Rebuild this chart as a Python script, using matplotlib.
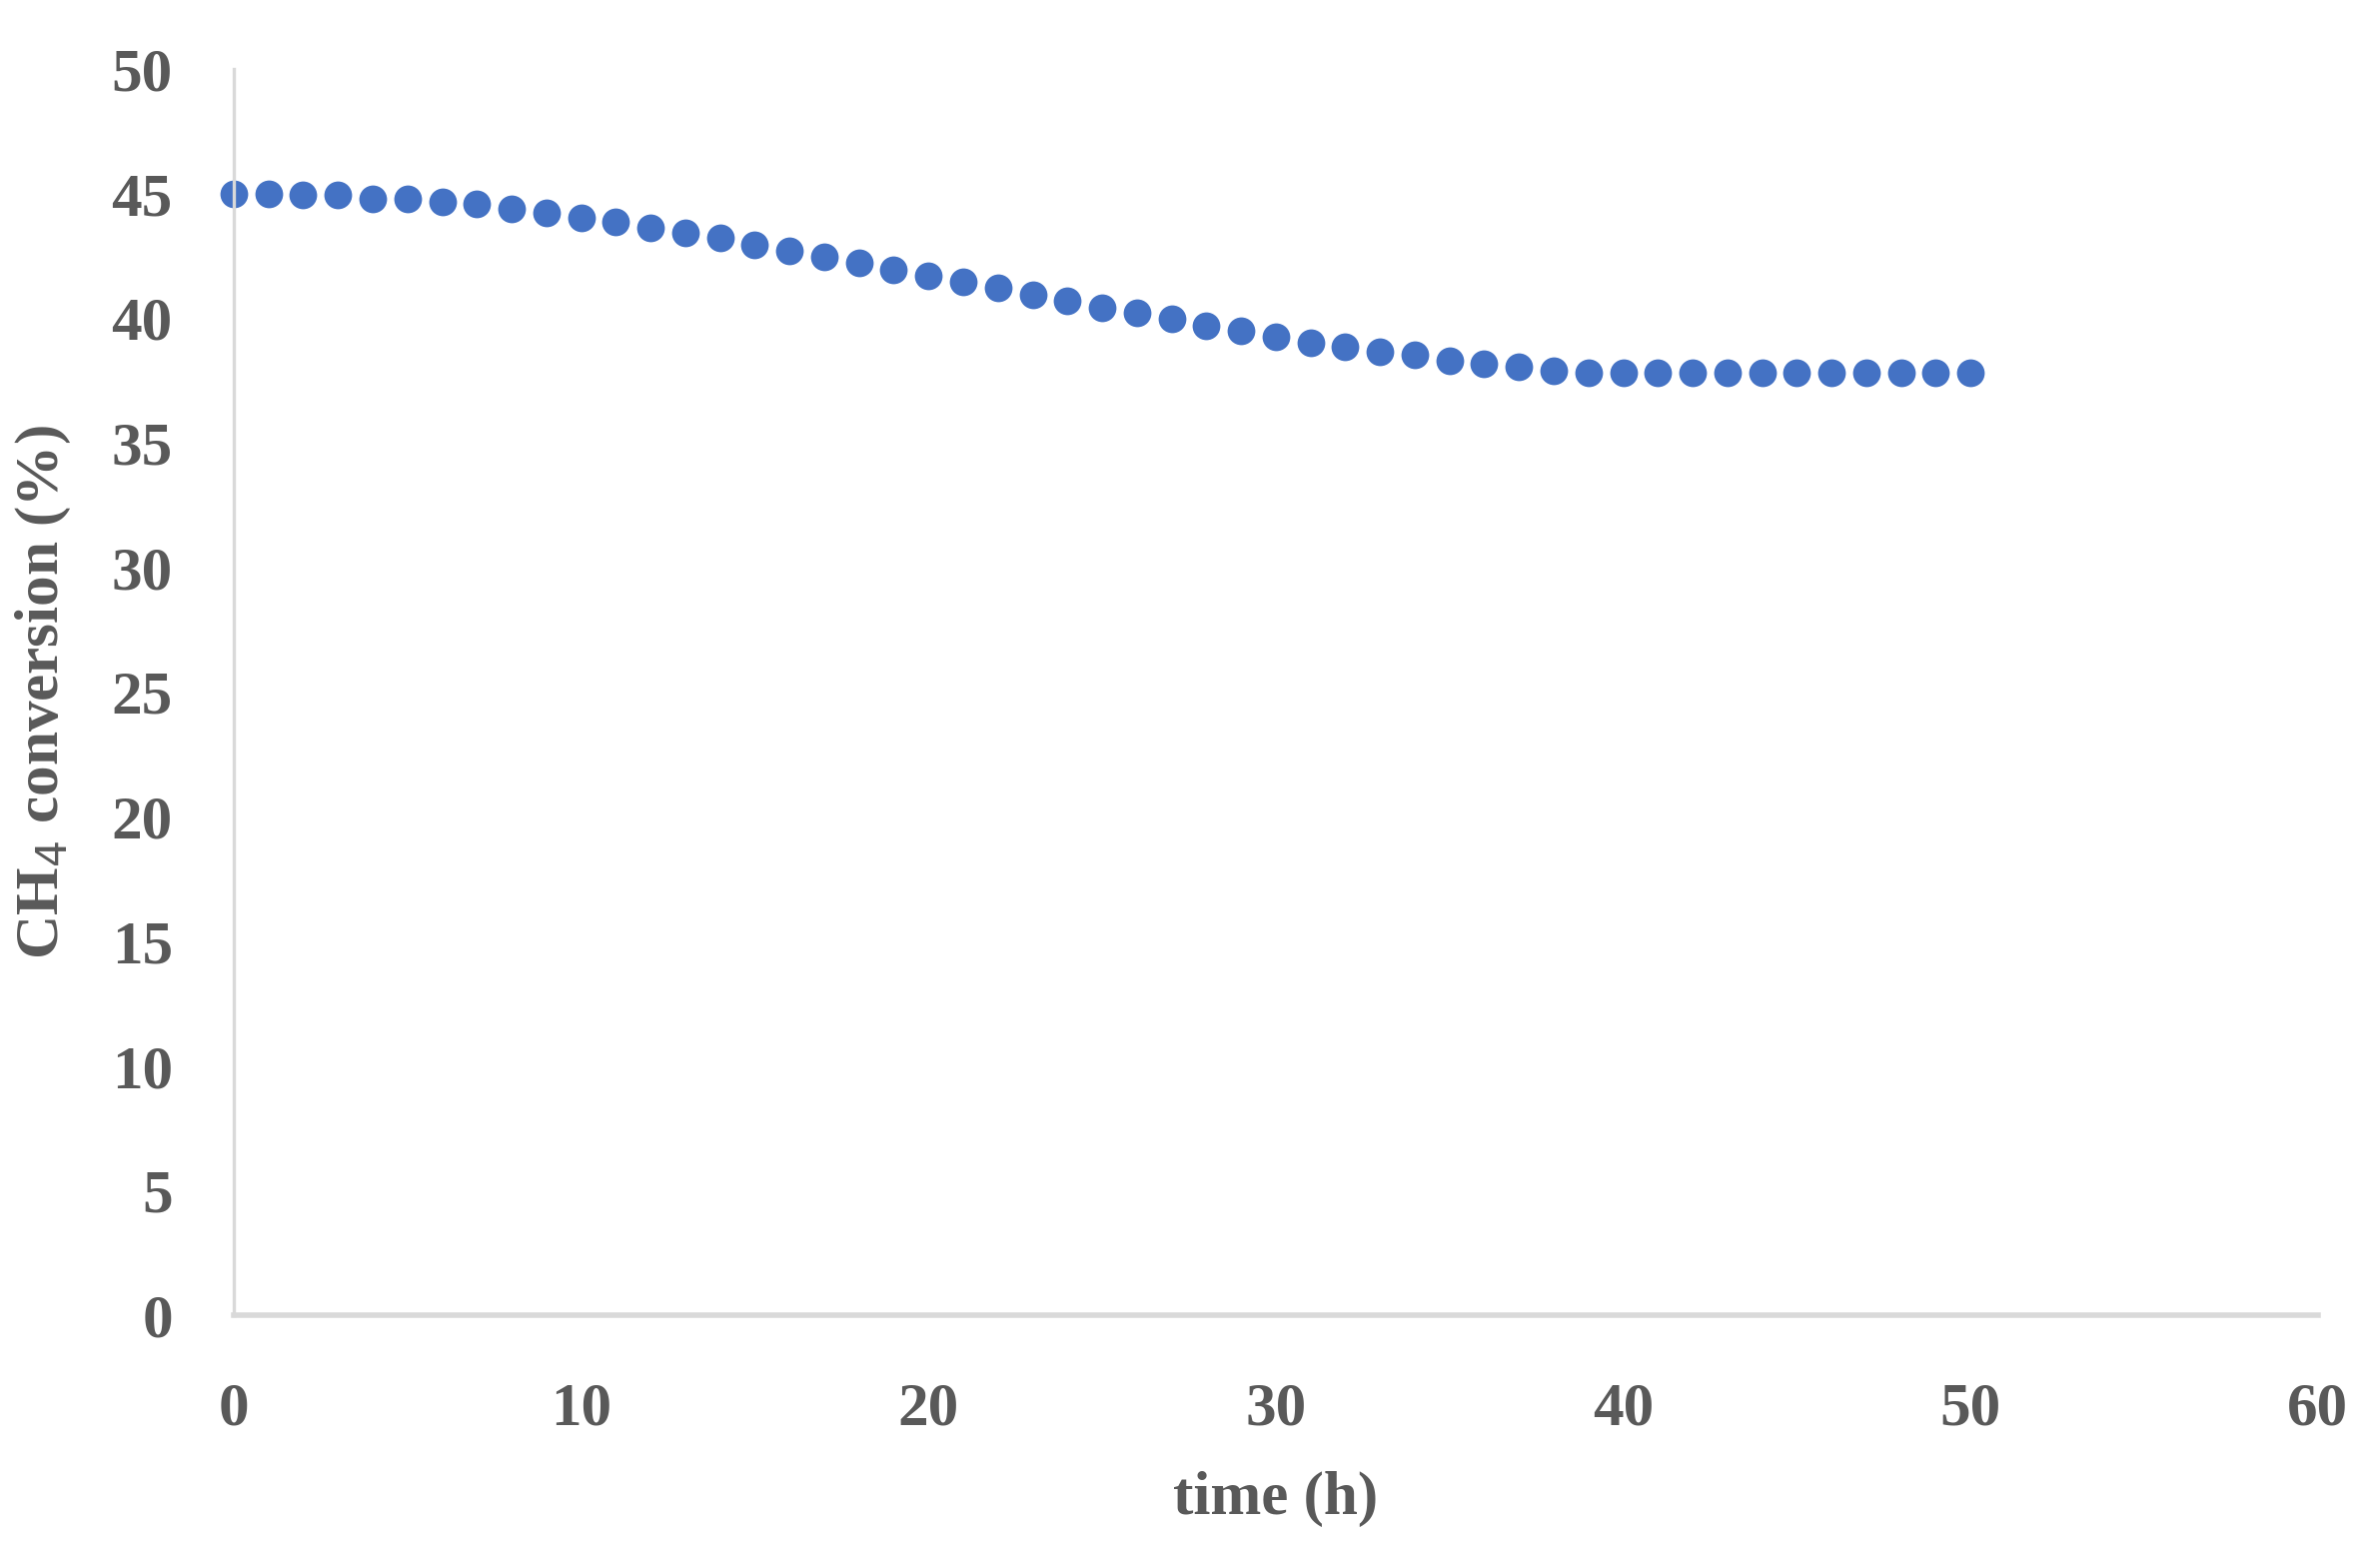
import matplotlib
matplotlib.use("Agg")
import matplotlib.pyplot as plt

# CH4 conversion vs time on stream
time_h = list(range(0, 51))
conversion = [45.0, 45.0, 44.95, 44.95, 44.8, 44.77, 44.66, 44.57, 44.39, 44.23,
              44.04, 43.86, 43.64, 43.44, 43.24, 42.93, 42.71, 42.47, 42.21, 41.93,
              41.69, 41.44, 41.2, 40.95, 40.68, 40.4, 40.21, 39.97, 39.71, 39.48,
              39.27, 39.0, 38.85, 38.65, 38.54, 38.31, 38.18, 38.05, 37.9, 37.82,
              37.8, 37.8, 37.8, 37.8, 37.8, 37.8, 37.8, 37.8, 37.8, 37.8, 37.8]

x_ticks = [0, 10, 20, 30, 40, 50, 60]
y_ticks = [0, 5, 10, 15, 20, 25, 30, 35, 40, 45, 50]

TEXT = "#595959"
AXIS = "#d9d9d9"
BLUE = "#4472c4"

plt.rcParams["font.family"] = ["Liberation Serif", "DejaVu Serif"]

fig = plt.figure(figsize=(11.91, 7.75), dpi=200)
ax = fig.add_axes([0.0982, 0.151, 0.8757, 0.8045])

ax.plot(time_h, conversion, "o", color=BLUE, markersize=10, markeredgewidth=0,
        clip_on=False)

ax.set_xlim(0, 60)
ax.set_ylim(0, 50)
ax.set_xticks(x_ticks)
ax.set_yticks(y_ticks)

for side in ("top", "right"):
    ax.spines[side].set_visible(False)
ax.spines["left"].set_color(AXIS)
ax.spines["left"].set_linewidth(1.2)
ax.spines["bottom"].set_color(AXIS)
ax.spines["bottom"].set_linewidth(2.0)

ax.tick_params(axis="both", length=0, labelsize=22, labelcolor=TEXT)
ax.tick_params(axis="x", pad=24)
ax.tick_params(axis="y", pad=22)
for lab in ax.get_xticklabels() + ax.get_yticklabels():
    lab.set_fontweight("bold")

ax.set_xlabel("time (h)", fontsize=22, color=TEXT, fontweight="bold", labelpad=12)
ax.set_ylabel("CH$_4$ conversion (%)", fontsize=22, color=TEXT,
              fontweight="bold", labelpad=14)

fig.savefig("out.png", dpi=200)
